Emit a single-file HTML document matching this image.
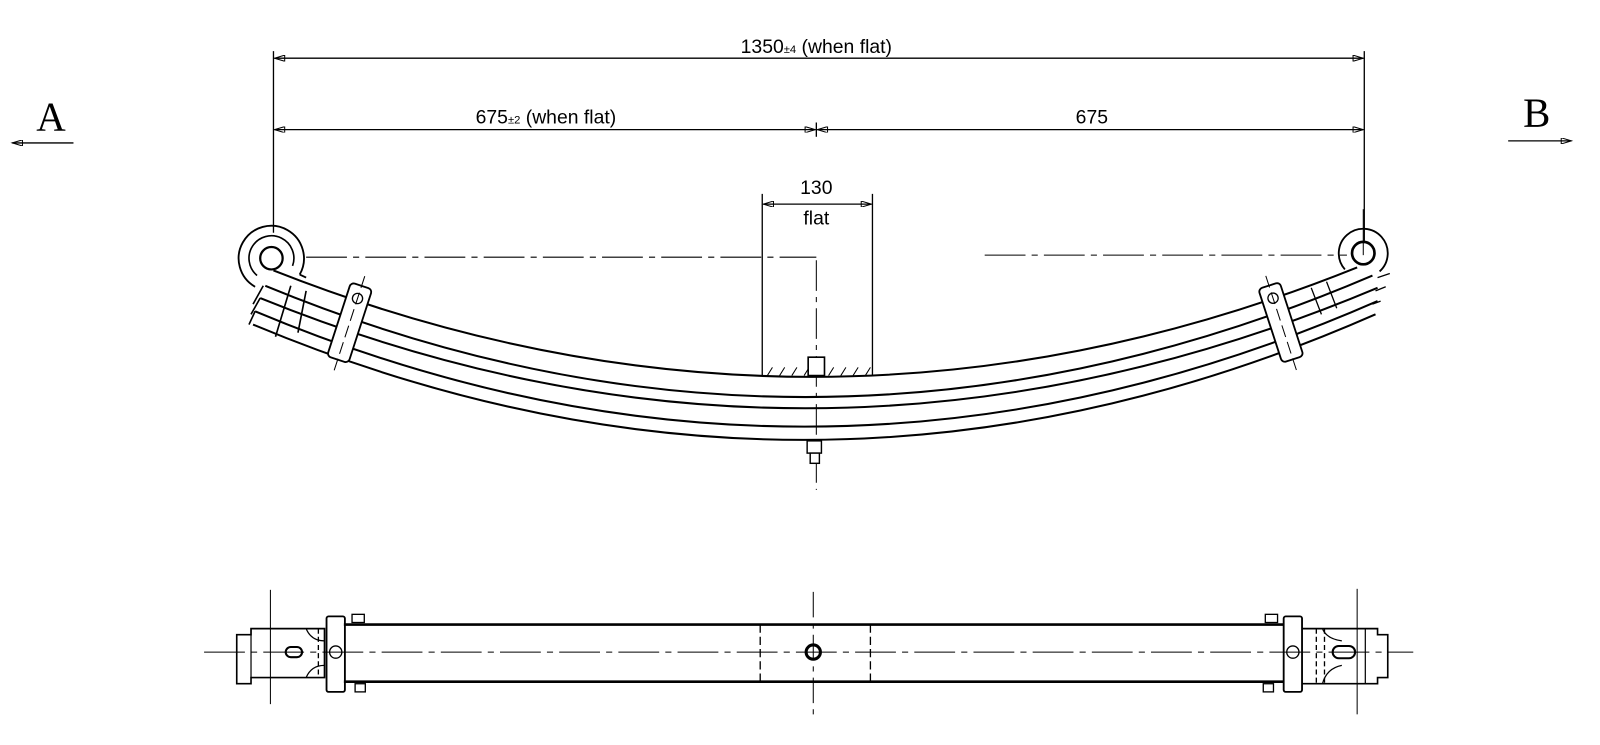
<!DOCTYPE html>
<html><head><style>html,body{margin:0;padding:0;background:#fff;}svg{display:block}</style></head>
<body>
<svg width="1600" height="745" viewBox="0 0 1568 730" xmlns="http://www.w3.org/2000/svg" font-family="Liberation Sans, sans-serif">
<defs>
<marker id="ar" viewBox="0 0 10 6" refX="10" refY="3" markerWidth="14" markerHeight="6" orient="auto-start-reverse" markerUnits="userSpaceOnUse"><path d="M0,0 L10,3 L0,6 z" fill="none" stroke="#000" stroke-width="1"/></marker>
</defs>
<g stroke="#000" fill="none" stroke-width="1.3">
<line x1="268" y1="50" x2="268" y2="228"/>
<line x1="1337" y1="50" x2="1337" y2="236"/>
<line x1="269" y1="57" x2="1336" y2="57" marker-start="url(#ar)" marker-end="url(#ar)"/>
<line x1="269" y1="127" x2="799" y2="127" marker-start="url(#ar)" marker-end="url(#ar)"/>
<line x1="801" y1="127" x2="1336" y2="127" marker-start="url(#ar)" marker-end="url(#ar)"/>
<line x1="800" y1="120" x2="800" y2="134"/>
<line x1="747" y1="190" x2="747" y2="368"/>
<line x1="855" y1="190" x2="855" y2="368"/>
<line x1="748" y1="200" x2="854" y2="200" marker-start="url(#ar)" marker-end="url(#ar)"/>
<g stroke-width="1">
<path d="M752,368 l5,-8 M764,368 l5,-8 M776,368 l5,-8 M788,368 l5,-8 M812,368 l5,-8 M824,368 l5,-8 M836,368 l5,-8 M848,368 l5,-8"/>
</g>
<path d="M300,252 H800 M965,250 H1320" stroke-dasharray="40,6,6,6" stroke-width="1"/>
<path d="M800,255 V480" stroke-dasharray="30,6,5,6" stroke-width="1"/>
<g stroke-width="2">
<path d="M268,265 Q800,475 1330,262"/>
<path d="M260,280 Q800,503 1345,270"/>
<path d="M255,292 Q800,513 1350,282"/>
<path d="M250,305 Q800,536 1350,295"/>
<path d="M248,318 Q800,549 1348,308"/>
</g>
<g stroke-width="1.6">
<path d="M258,280 L248,298 M255,292 L246,308 M250,305 L244,318"/>
<path d="M300,285 L292,326 M285,280 L270,330"/>
</g>
<!-- left eye -->
<circle cx="266" cy="253" r="11" stroke-width="2.2"/>
<path d="M286.7,260.5 A22,22 0 1 0 251.9,269.9" stroke-width="1.6"/>
<path d="M293.7,269 A32,32 0 1 0 250,281" stroke-width="1.8"/>
<path d="M293.7,269 L300,272" stroke-width="1.8"/>
<!-- right eye -->
<circle cx="1336" cy="248" r="11" stroke-width="2.6"/>
<path d="M1352,266 A24,24 0 1 0 1318,264" stroke-width="1.8"/>
<path d="M1336,205 V250" stroke-width="1"/>
<path d="M1350,272 l12,-4 M1348,285 l10,-4 M1345,298 l8,-3"/>
<path d="M1300,276 l10,26 M1285,282 l10,26"/>
<g transform="rotate(18 342 315)"><rect x="332" y="278" width="22" height="76" rx="4" fill="#fff" stroke-width="1.8"/><circle cx="343" cy="291" r="5"/><path d="M343,268 V367" stroke-dasharray="12,5" stroke-width="1"/></g>
<g transform="rotate(-18 1255 315)"><rect x="1244" y="278" width="22" height="76" rx="4" fill="#fff" stroke-width="1.8"/><circle cx="1255" cy="291" r="5"/><path d="M1255,268 V367" stroke-dasharray="12,5" stroke-width="1"/></g>
<rect x="792" y="350" width="16" height="18" fill="#fff" stroke-width="1.6"/>
<rect x="791" y="432" width="14" height="12" fill="#fff" stroke-width="1.4"/>
<rect x="794" y="444" width="9" height="10" fill="#fff" stroke-width="1.4"/>
<line x1="12" y1="140" x2="72" y2="140" marker-start="url(#ar)"/>
<line x1="1478" y1="138" x2="1540" y2="138" marker-end="url(#ar)"/>

<path d="M200,639 H1385" stroke-dasharray="40,6,6,6" stroke-width="1"/>
<line x1="337" y1="612" x2="1258" y2="612" stroke-width="2.6"/>
<line x1="337" y1="668" x2="1258" y2="668" stroke-width="2.6"/>
<path d="M745,612 V668 M853,612 V668" stroke-dasharray="8,4" stroke-width="1.3"/>
<path d="M797,580 V705" stroke-dasharray="25,6,5,6" stroke-width="1"/>
<circle cx="797" cy="639" r="7" stroke-width="3"/>
<path d="M246,616 H318 V664 H246 V670 H232 V622 H246 Z" stroke-width="1.6"/>
<path d="M246,616 V664" stroke-width="1.2"/>
<path d="M300,616 Q305,628 318,628 M300,664 Q305,652 318,652" stroke-width="1.2"/>
<rect x="280" y="634" width="16" height="10" rx="5" stroke-width="2"/>
<path d="M265,578 V690" stroke-width="1"/>
<path d="M312,616 V664" stroke-dasharray="5,3"/>
<rect x="320" y="604" width="18" height="74" rx="2" stroke-width="1.8"/>
<circle cx="329" cy="639" r="6"/>
<rect x="345" y="602" width="12" height="8"/>
<rect x="348" y="670" width="10" height="8"/>
<rect x="1258" y="604" width="18" height="74" rx="2" stroke-width="1.8"/>
<circle cx="1267" cy="639" r="6"/>
<rect x="1240" y="602" width="12" height="8"/>
<rect x="1238" y="670" width="10" height="8"/>
<path d="M1276,616 H1350 V622 H1360 V664 H1350 V670 H1276" stroke-width="1.6"/>
<path d="M1296,616 Q1300,626 1315,628 M1296,670 Q1300,655 1315,652" stroke-width="1.2"/>
<path d="M1290,616 V670 M1298,616 V670" stroke-dasharray="5,3"/>
<rect x="1306" y="633" width="22" height="12" rx="6" stroke-width="2"/>
<path d="M1330,577 V700" stroke-width="1"/>
<path d="M1338,616 V670" stroke-width="1.2"/>
</g>
<g fill="#000" font-size="19" text-anchor="middle">
<text x="800" y="52">1350<tspan font-size="11">±4</tspan> (when flat)</text>
<text x="535" y="121">675<tspan font-size="11">±2</tspan> (when flat)</text>
<text x="1070" y="121">675</text>
<text x="800" y="190">130</text>
<text x="800" y="220">flat</text>
</g>
<g fill="#000" font-family="Liberation Serif, serif" font-size="40" text-anchor="middle">
<text x="50" y="128">A</text>
<text x="1506" y="124">B</text>
</g>
</svg>
</body></html>
